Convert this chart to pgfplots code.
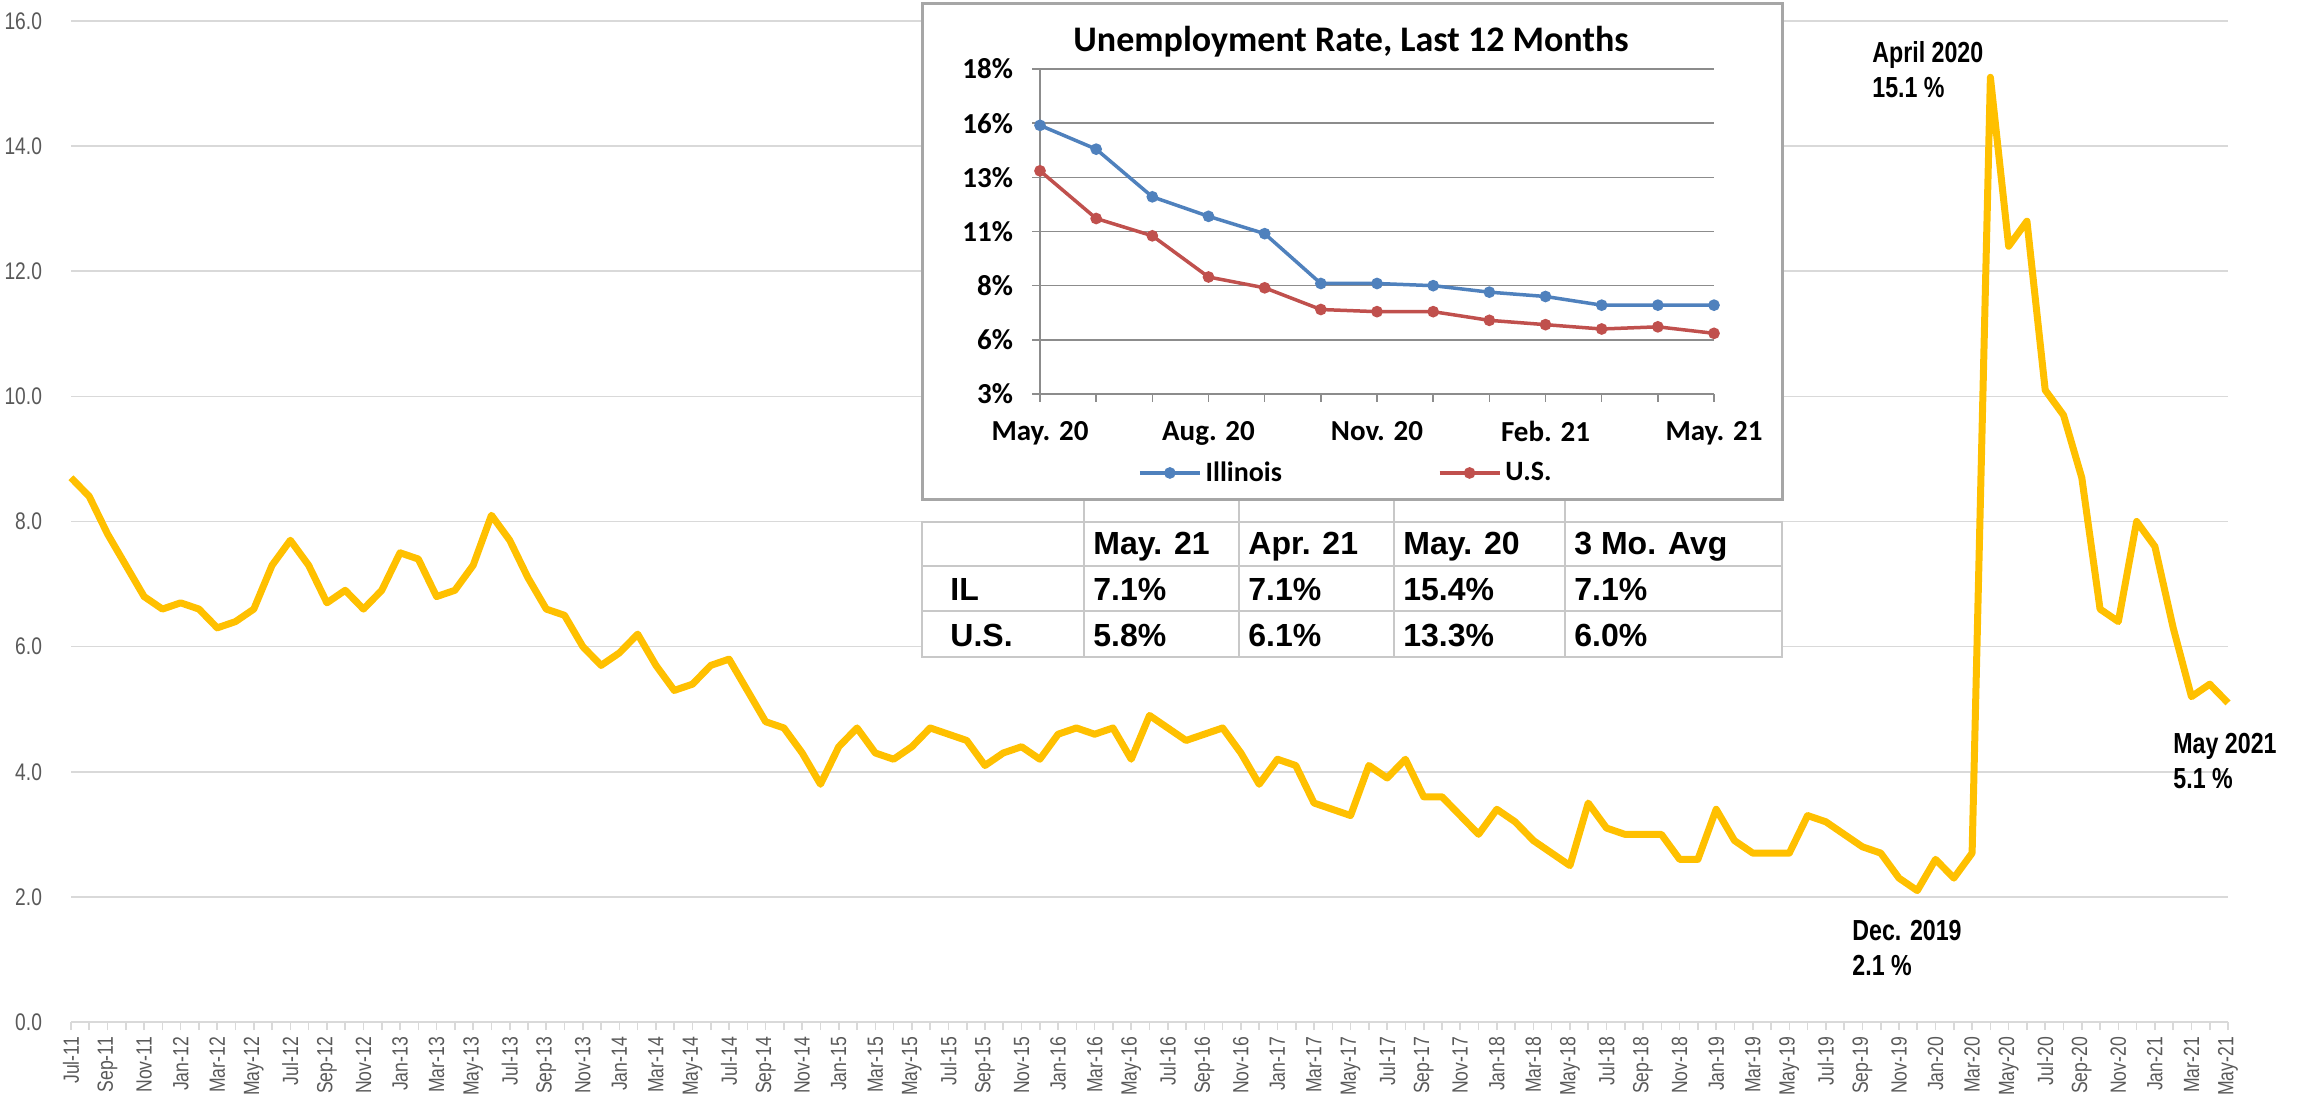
\documentclass[border=0pt]{standalone}
\usepackage{fontspec}
\setmainfont{Liberation Sans}
\newfontfamily\narrowfont[FakeStretch=0.8]{Liberation Sans}
\newfontfamily\calibri{Carlito}
\usepackage{pgfplots}
\pgfplotsset{compat=1.18}
\definecolor{gold}{HTML}{FFC000}
\definecolor{gridgray}{HTML}{D9D9D9}
\definecolor{labgray}{HTML}{595959}
\definecolor{ilblue}{HTML}{4F81BD}
\definecolor{usred}{HTML}{C0504D}
\definecolor{insetgrid}{HTML}{8C8C8C}
\definecolor{boxgray}{HTML}{A6A6A6}
\definecolor{tabgray}{HTML}{C8C8C8}
\begin{document}
\begin{tikzpicture}
\useasboundingbox (0,0) rectangle (1151.5pt,552pt);
\begin{axis}[
  at={(35.5pt,41pt)}, anchor=south west,
  scale only axis, width=1078.5pt, height=500.5pt,
  xmin=0, xmax=118, ymin=0, ymax=16,
  separate axis lines,
  axis x line*=bottom, axis y line*=left,
  x axis line style={draw=gridgray, line width=1pt},
  y axis line style={draw=none},
  ytick={0,2,...,16},
  yticklabels={0.0,2.0,4.0,6.0,8.0,10.0,12.0,14.0,16.0},
  ymajorgrids, grid style={gridgray, line width=0.8pt},
  ytick style={draw=none},
  xtick={0,2,...,118}, minor xtick={1,3,...,117},
  tick align=outside, major tick length=4pt, minor tick length=4pt,
  xtick style={draw=gridgray, line width=0.8pt},
  minor tick style={draw=gridgray, line width=0.8pt},
  xticklabels={Jul-11,Sep-11,Nov-11,Jan-12,Mar-12,May-12,Jul-12,Sep-12,Nov-12,Jan-13,Mar-13,May-13,Jul-13,Sep-13,Nov-13,Jan-14,Mar-14,May-14,Jul-14,Sep-14,Nov-14,Jan-15,Mar-15,May-15,Jul-15,Sep-15,Nov-15,Jan-16,Mar-16,May-16,Jul-16,Sep-16,Nov-16,Jan-17,Mar-17,May-17,Jul-17,Sep-17,Nov-17,Jan-18,Mar-18,May-18,Jul-18,Sep-18,Nov-18,Jan-19,Mar-19,May-19,Jul-19,Sep-19,Nov-19,Jan-20,Mar-20,May-20,Jul-20,Sep-20,Nov-20,Jan-21,Mar-21,May-21},
  xticklabel style={rotate=90, anchor=east, font=\narrowfont\fontsize{11}{12}\selectfont, text=labgray},
  yticklabel style={font=\narrowfont\fontsize{12}{13}\selectfont, text=labgray, xshift=-7pt},
  clip=false,
]
\addplot[gold, line width=3.5pt, line join=round] coordinates {
(0,8.7)(1,8.4)(2,7.8)(3,7.3)(4,6.8)(5,6.6)(6,6.7)(7,6.6)(8,6.3)(9,6.4)
(10,6.6)(11,7.3)(12,7.7)(13,7.3)(14,6.7)(15,6.9)(16,6.6)(17,6.9)(18,7.5)(19,7.4)
(20,6.8)(21,6.9)(22,7.3)(23,8.1)(24,7.7)(25,7.1)(26,6.6)(27,6.5)(28,6.0)(29,5.7)
(30,5.9)(31,6.2)(32,5.7)(33,5.3)(34,5.4)(35,5.7)(36,5.8)(37,5.3)(38,4.8)(39,4.7)
(40,4.3)(41,3.8)(42,4.4)(43,4.7)(44,4.3)(45,4.2)(46,4.4)(47,4.7)(48,4.6)(49,4.5)
(50,4.1)(51,4.3)(52,4.4)(53,4.2)(54,4.6)(55,4.7)(56,4.6)(57,4.7)(58,4.2)(59,4.9)
(60,4.7)(61,4.5)(62,4.6)(63,4.7)(64,4.3)(65,3.8)(66,4.2)(67,4.1)(68,3.5)(69,3.4)
(70,3.3)(71,4.1)(72,3.9)(73,4.2)(74,3.6)(75,3.6)(76,3.3)(77,3.0)(78,3.4)(79,3.2)
(80,2.9)(81,2.7)(82,2.5)(83,3.5)(84,3.1)(85,3.0)(86,3.0)(87,3.0)(88,2.6)(89,2.6)
(90,3.4)(91,2.9)(92,2.7)(93,2.7)(94,2.7)(95,3.3)(96,3.2)(97,3.0)(98,2.8)(99,2.7)
(100,2.3)(101,2.1)(102,2.6)(103,2.3)(104,2.7)(105,15.1)(106,12.4)(107,12.8)(108,10.1)(109,9.7)
(110,8.7)(111,6.6)(112,6.4)(113,8.0)(114,7.6)(115,6.3)(116,5.2)(117,5.4)(118,5.1)
};
\end{axis}
\begin{scope}[x=0.5pt, y=-0.5pt, shift={(0pt,552pt)}]
  \tikzset{ann/.style={anchor=base west, inner sep=0pt, font=\narrowfont\bfseries\fontsize{14.5}{16}\selectfont}}
  \node[ann] at (1872,62.7) {April 2020};
  \node[ann] at (1872,97.7) {15.1 \%};
  \node[ann] at (1852,940.6) {Dec. 2019};
  \node[ann] at (1852,975.6) {2.1 \%};
  \node[ann] at (2173,753.6) {May 2021};
  \node[ann] at (2173,788.6) {5.1 \%};
  % inset box
  \draw[boxgray, line width=1.5pt, fill=white] (922,4) rectangle (1782,500);
  \node[font=\calibri\bfseries\fontsize{18}{20}\selectfont] at (1351,42) {Unemployment Rate, Last 12 Months};
  % table
  \fill[white] (922,501) rectangle (1782,657);
  \draw[tabgray, line width=1.25pt] (922,522) rectangle (1782,657);
  \draw[tabgray, line width=1.25pt] (922,566) -- (1782,566) (922,611) -- (1782,611);
  \foreach \cx in {1084,1239,1394,1565} {\draw[tabgray, line width=1.25pt] (\cx,501) -- (\cx,657);}
  \tikzset{tab/.style={anchor=base west, inner sep=0pt, font=\bfseries\fontsize{16}{18}\selectfont}}
  \node[tab] at (1093,555) {May. 21};
  \node[tab] at (1248,555) {Apr. 21};
  \node[tab] at (1403,555) {May. 20};
  \node[tab] at (1574,555) {3 Mo. Avg};
  \node[tab] at (950,601) {IL};
  \node[tab] at (1093,601) {7.1\%};
  \node[tab] at (1248,601) {7.1\%};
  \node[tab] at (1403,601) {15.4\%};
  \node[tab] at (1574,601) {7.1\%};
  \node[tab] at (950,647) {U.S.};
  \node[tab] at (1093,647) {5.8\%};
  \node[tab] at (1248,647) {6.1\%};
  \node[tab] at (1403,647) {13.3\%};
  \node[tab] at (1574,647) {6.0\%};
\end{scope}
\begin{axis}[
  at={(520pt,355pt)}, anchor=south west,
  scale only axis, width=337pt, height=162.5pt,
  xmin=0, xmax=12, ymin=3, ymax=18,
  separate axis lines,
  axis x line*=bottom, axis y line*=left,
  axis line style={draw=insetgrid, line width=0.75pt},
  ytick={3,5.5,8,10.5,13,15.5,18},
  yticklabels={3\%,6\%,8\%,11\%,13\%,16\%,18\%},
  ymajorgrids, grid style={insetgrid, line width=0.75pt},
  xtick={0,3,6,9,12}, minor xtick={1,2,4,5,7,8,10,11},
  xticklabels={May. 20,Aug. 20,Nov. 20,Feb. 21,May. 21},
  tick align=outside, major tick length=4pt, minor tick length=4pt,
  tick style={draw=insetgrid, line width=0.75pt},
  minor tick style={draw=insetgrid, line width=0.75pt},
  ticklabel style={font=\calibri\bfseries\fontsize{14.5}{16}\selectfont, text=black},
  xticklabel style={yshift=-6pt},
  yticklabel style={xshift=-6pt},
  legend style={draw=none, fill=none, legend columns=2, at={(0.145,-0.243)}, anchor=west,
    font=\calibri\bfseries\fontsize{14}{16}\selectfont, inner sep=0pt,
    /tikz/every even column/.append style={column sep=76pt}},
  legend image code/.code={\draw[mark repeat=2,mark phase=2,#1] plot coordinates {(0pt,0pt) (15pt,0pt) (30pt,0pt)};},
  clip=false,
]
\addplot[ilblue, line width=1.75pt, mark=*, mark size=2pt] coordinates {
(0,15.4)(1,14.3)(2,12.1)(3,11.2)(4,10.4)(5,8.1)(6,8.1)(7,8.0)(8,7.7)(9,7.5)(10,7.1)(11,7.1)(12,7.1)};
\addlegendentry{Illinois}
\addplot[usred, line width=1.75pt, mark=*, mark size=2pt] coordinates {
(0,13.3)(1,11.1)(2,10.3)(3,8.4)(4,7.9)(5,6.9)(6,6.8)(7,6.8)(8,6.4)(9,6.2)(10,6.0)(11,6.1)(12,5.8)};
\addlegendentry{U.S.}
\end{axis}
\end{tikzpicture}
\end{document}
